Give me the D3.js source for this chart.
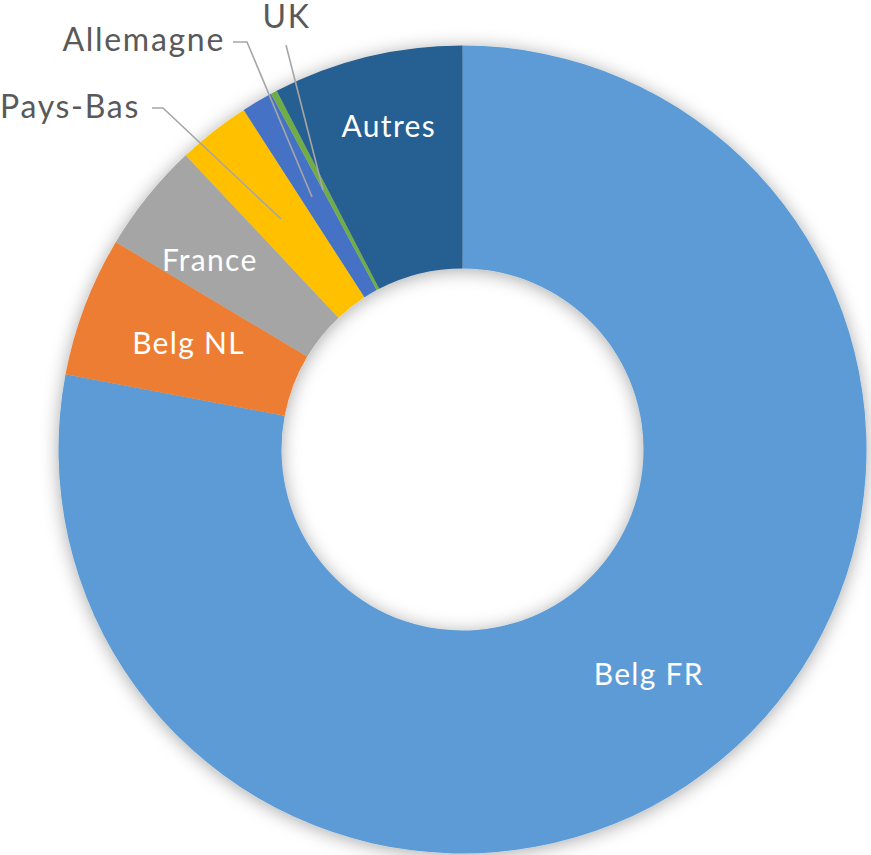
<!DOCTYPE html>
<html>
<head>
<meta charset="utf-8">
<script src="https://cdn.jsdelivr.net/npm/d3@7"></script>
<style>
  html, body { margin: 0; padding: 0; background: #ffffff; }
  svg { display: block; }
</style>
</head>
<body>
<svg id="chart" width="871" height="855"></svg>
<script>
// ---- data (clockwise from 12 o'clock) ----
const categories = ["Belg FR", "Belg NL", "France", "Pays-Bas", "Allemagne", "UK", "Autres"];
const values     = [77.9, 5.6, 4.4, 2.9, 1.25, 0.25, 7.6];
const colors     = ["#5B9BD5", "#ED7D31", "#A5A5A5", "#FFC000", "#4472C4", "#70AD47", "#255E91"];
const insideLabels  = ["Belg FR", "Belg NL", "France", "Autres"];
const outsideLabels = ["Pays-Bas", "Allemagne", "UK"];

const svg = d3.select("#chart");
const cx = 462.5, cy = 449.5, R = 404, r = 181;
const FONT = "Lato, 'Open Sans', sans-serif";

const defs = svg.append("defs");
const f = defs.append("filter").attr("id", "shadow")
  .attr("x", "-20%").attr("y", "-20%").attr("width", "140%").attr("height", "140%");
f.append("feDropShadow").attr("dx", 0).attr("dy", 2).attr("stdDeviation", 9)
  .attr("flood-color", "#000").attr("flood-opacity", 0.34);

const data = categories.map((c, i) => ({ name: c, value: values[i], color: colors[i] }));
const pie = d3.pie().value(d => d.value).sort(null);
const arcs = pie(data);
const arc = d3.arc().innerRadius(r).outerRadius(R);

const g = svg.append("g").attr("transform", `translate(${cx},${cy})`);
g.append("g").attr("filter", "url(#shadow)")
  .selectAll("path").data(arcs).enter().append("path")
  .attr("d", arc).attr("fill", d => d.data.color);

// inside labels (placed around each slice's mid angle)
const labelRadius = { "Belg FR": 292, "Belg NL": 294, "France": 316, "Autres": 332 };
const labelAngleShift = { "Belg FR": 0, "Belg NL": 0.008, "France": -0.034, "Autres": 0.015 };
const midA = d => (d.startAngle + d.endAngle) / 2 + labelAngleShift[d.data.name];
g.selectAll("text.in").data(arcs.filter(d => insideLabels.includes(d.data.name)))
  .enter().append("text").attr("class", "in")
  .attr("x", d => labelRadius[d.data.name] * Math.sin(midA(d)))
  .attr("y", d => -labelRadius[d.data.name] * Math.cos(midA(d)))
  .attr("dy", "0.36em")
  .attr("text-anchor", "middle")
  .attr("fill", "#ffffff")
  .style("font-family", FONT)
  .style("font-size", "30px")
  .style("letter-spacing", "1.3px")
  .text(d => d.data.name);

// outside labels with leader lines
const outPos = {
  "Pays-Bas":  { text: [-322.5, -331.5], anchor: "end",    line: [[-310.5, -341.5], [-299.5, -341.5], [-181.5, -230.5]] },
  "Allemagne": { text: [-237.5, -398.5], anchor: "end",    line: [[-229.5, -407.5], [-215.5, -407.5], [-150.5, -252.5]] },
  "UK":        { text: [-176,   -421.5], anchor: "middle", line: [[-176.5, -404.5], [-139.5, -259.5]] }
};
arcs.filter(d => outsideLabels.includes(d.data.name)).forEach(d => {
  const p = outPos[d.data.name];
  g.append("path")
    .attr("d", d3.line()(p.line))
    .attr("fill", "none").attr("stroke", "#A6A6A6").attr("stroke-width", 1.6);
  g.append("text")
    .attr("x", p.text[0]).attr("y", p.text[1])
    .attr("text-anchor", p.anchor)
    .attr("fill", "#595959")
    .style("font-family", FONT)
    .style("font-size", "32px")
    .style("letter-spacing", "1.7px")
    .text(d.data.name);
});
</script>
</body>
</html>
